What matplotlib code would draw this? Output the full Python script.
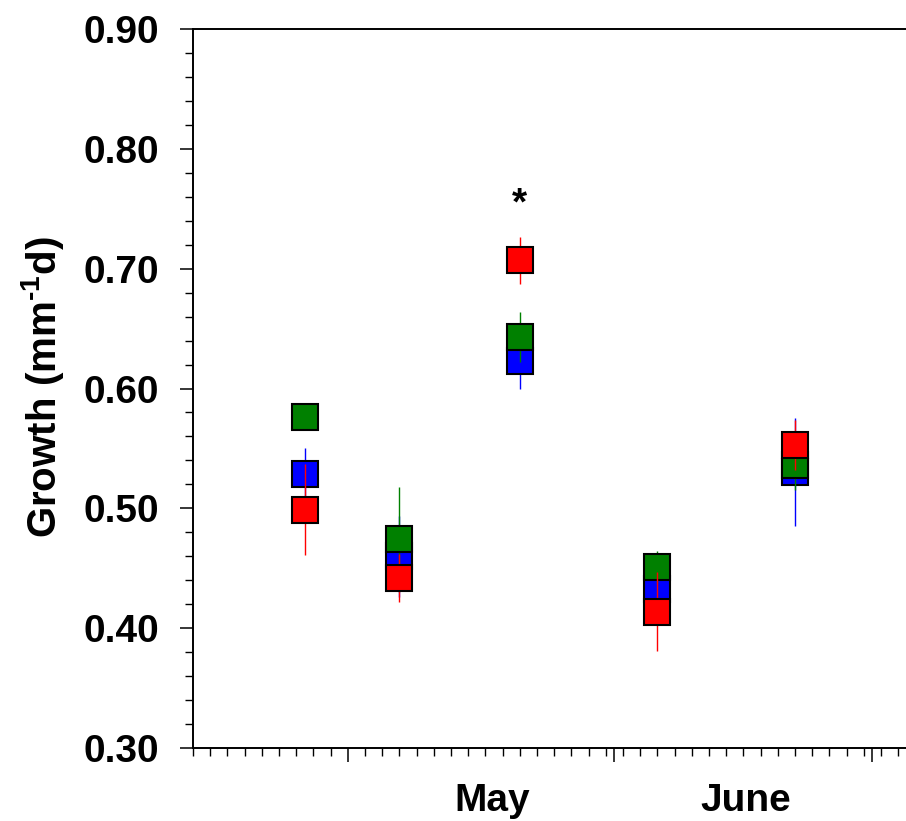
import matplotlib
matplotlib.use("Agg")
import matplotlib.pyplot as plt
import matplotlib.transforms as mtransforms
import numpy as np

plt.rcParams['font.family'] = ['Liberation Sans', 'DejaVu Sans']
plt.rcParams['font.weight'] = 'bold'
plt.rcParams['mathtext.fontset'] = 'custom'
plt.rcParams['mathtext.rm'] = 'Liberation Sans:bold'
plt.rcParams['mathtext.it'] = 'Liberation Sans:bold'
plt.rcParams['mathtext.bf'] = 'Liberation Sans:bold'

# x positions: day of year of each sampling date
days = [116, 127, 141, 157, 173]

blue_vals = [0.529, 0.460, 0.623, 0.433, 0.530]
blue_err = [0.021, 0.034, 0.023, 0.020, 0.045]
green_vals = [0.5765, 0.474, 0.643, 0.451, 0.536]
green_err = [0.008, 0.044, 0.021, 0.013, 0.021]
red_vals = [0.499, 0.4416, 0.707, 0.4137, 0.553]
red_err = [0.038, 0.020, 0.0195, 0.033, 0.021]

month_labels = ["May", "June"]
month_label_pos = [137.8, 167.3]
month_starts = [121, 152, 182]
yticks = [0.30, 0.40, 0.50, 0.60, 0.70, 0.80, 0.90]
star_x, star_y = 141, 0.7456

fig = plt.figure(figsize=(9.06, 8.21), dpi=100)
ax = fig.add_axes([193/906, 1-748/821, 1-193/906, (748-29)/821])

series = [(blue_vals, blue_err, '#0000ff'),
          (green_vals, green_err, '#008000'),
          (red_vals, red_err, '#ff0000')]
for i, (vals, errs, col) in enumerate(series):
    ax.errorbar(days, vals, yerr=errs, fmt='s', color=col, ecolor=col,
                elinewidth=1.0, capsize=0, markersize=18.5,
                markerfacecolor=col, markeredgecolor='black',
                markeredgewidth=1.5, zorder=3 + i)

ax.text(star_x, star_y, "*", ha='center', va='baseline', fontsize=28,
        fontweight='bold')

ax.set_xlim(103, 185.9)
ax.set_ylim(0.30, 0.90)

ax.set_yticks(yticks)
ax.set_yticklabels([f"{v:.2f}" for v in yticks])
ax.set_yticks(np.arange(0.30, 0.9001, 0.02), minor=True)
ax.set_xticks(month_starts)
ax.set_xticklabels([])
ax.set_xticks(np.arange(103, 186, 2), minor=True)

ax.tick_params(axis='y', which='major', direction='out', length=9.4,
               width=1.1, labelsize=28, pad=15)
ax.tick_params(axis='y', which='minor', direction='out', length=5.8,
               width=1.0)
ax.tick_params(axis='x', which='major', direction='out', length=10,
               width=1.1)
ax.tick_params(axis='x', which='minor', direction='out', length=6,
               width=1.0)

for lab in ax.get_yticklabels():
    lab.set_fontweight('bold')

for s in ['left', 'bottom', 'top']:
    ax.spines[s].set_linewidth(1.4)
ax.spines['right'].set_visible(False)

trans = mtransforms.blended_transform_factory(ax.transData, ax.transAxes)
for lab, pos in zip(month_labels, month_label_pos):
    ax.text(pos, -0.0876, lab, transform=trans, ha='center', va='baseline',
            fontsize=28, fontweight='bold')

fig.text(43/906, 1-387.5/821, r"Growth (mm$^{\text{-}1}$d)", rotation=90,
         ha='center', va='center', fontsize=29, fontweight='bold')

fig.savefig("out.png", dpi=100)
